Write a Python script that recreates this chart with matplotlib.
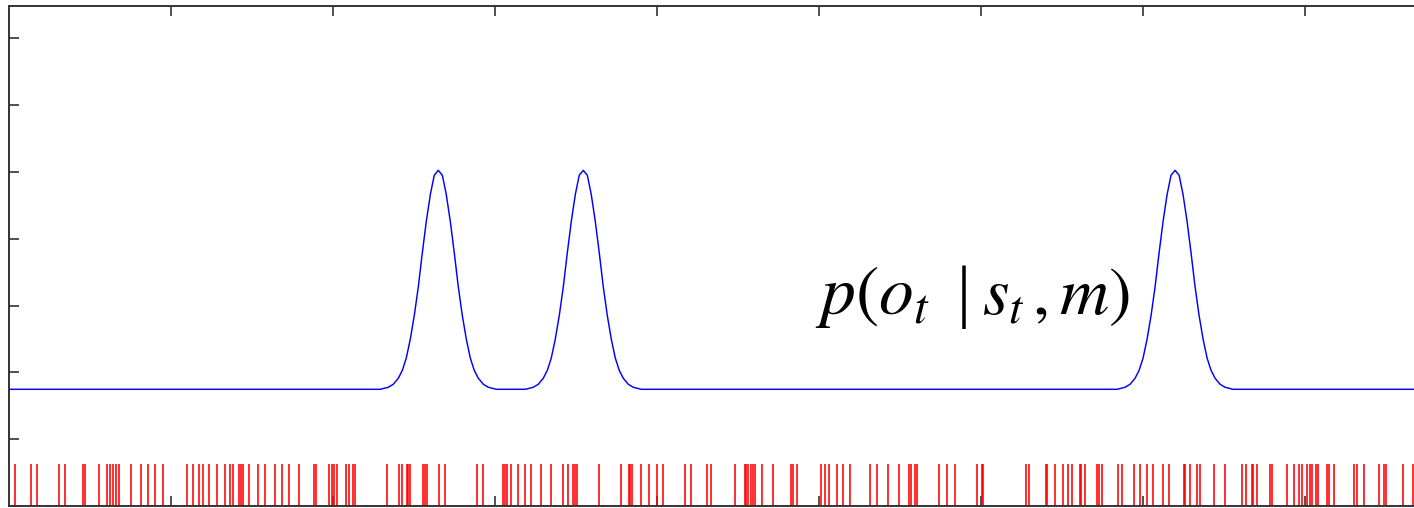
#!/usr/bin/env python3
"""Particle-filter style sketch: measurement likelihood with particle positions."""

import matplotlib

matplotlib.use("Agg")
import matplotlib.pyplot as plt
import numpy as np


# x in tick units (left spine = 0), y in tick units (bottom spine = 0)
base_level = 1.747
peak_centers = [2.650, 3.545, 7.198]

# one bump: distance from the peak and height above base
bump_offsets = [0.0, 0.025, 0.049, 0.074, 0.099, 0.123, 0.148, 0.173,
                0.198, 0.222, 0.247, 0.278, 0.309, 0.358]
bump_heights = [3.278, 3.204, 2.919, 2.515, 2.036, 1.542, 1.108, 0.749,
                0.464, 0.284, 0.165, 0.075, 0.030, 0.0]

particle_height = 0.63
particles = [
    0.037, 0.134, 0.171, 0.309, 0.346, 0.454, 0.469, 0.556, 0.603, 0.623,
    0.640, 0.659, 0.681, 0.751, 0.815, 0.860, 0.901, 0.949, 1.097, 1.134,
    1.173, 1.196, 1.235, 1.286, 1.333, 1.367, 1.383, 1.419, 1.432, 1.446,
    1.483, 1.539, 1.580, 1.642, 1.683, 1.730, 1.790, 1.883, 1.898, 1.973,
    1.992, 2.009, 2.027, 2.080, 2.096, 2.123, 2.136, 2.331, 2.407, 2.429,
    2.454, 2.465, 2.477, 2.557, 2.570, 2.583, 2.656, 2.693, 2.888, 2.927,
    3.049, 3.062, 3.077, 3.099, 3.141, 3.185, 3.222, 3.284, 3.346, 3.422,
    3.448, 3.480, 3.494, 3.509, 3.643, 3.779, 3.826, 3.836, 3.847, 3.902,
    3.952, 4.000, 4.039, 4.173, 4.209, 4.309, 4.335, 4.483, 4.541, 4.552,
    4.562, 4.580, 4.594, 4.608, 4.646, 4.713, 4.826, 4.841, 4.867, 5.014,
    5.037, 5.064, 5.111, 5.148, 5.190, 5.312, 5.360, 5.423, 5.496, 5.556,
    5.570, 5.593, 5.607, 5.742, 5.789, 5.841, 5.978, 6.005, 6.015, 6.276,
    6.298, 6.399, 6.410, 6.459, 6.505, 6.534, 6.560, 6.609, 6.619, 6.644,
    6.719, 6.731, 6.744, 6.844, 6.869, 6.943, 6.980, 7.026, 7.064, 7.125,
    7.162, 7.250, 7.262, 7.290, 7.336, 7.349, 7.436, 7.507, 7.609, 7.636,
    7.671, 7.681, 7.702, 7.784, 7.798, 7.890, 7.930, 7.965, 7.980, 8.011,
    8.031, 8.046, 8.068, 8.083, 8.138, 8.151, 8.177, 8.302, 8.318, 8.364,
    8.459, 8.489, 8.500, 8.607, 8.669,
]

x_ticks = [1, 2, 3, 4, 5, 6, 7, 8, 9]
y_ticks = [0, 1, 2, 3, 4, 5, 6, 7]
label_left = r"$p(o_t$"
label_bar = "|"
label_right = r"$s_t\,,m)$"


def build_curve():
    offs = np.array(bump_offsets)
    hts = np.array(bump_heights)
    xs = [0.0]
    ys = [base_level]
    for c in peak_centers:
        xs += list(c - offs[::-1]) + list(c + offs[1:])
        ys += list(base_level + hts[::-1]) + list(base_level + hts[1:])
    xs.append(10.0)
    ys.append(base_level)
    return np.array(xs), np.array(ys)


def main():
    plt.rcParams["mathtext.fontset"] = "stix"
    fig = plt.figure(figsize=(14.14, 5.08), dpi=100)
    # axes runs past the right edge of the picture (cropped figure)
    ax = fig.add_axes([9 / 1414, 2 / 508, 1620 / 1414, 500 / 508])

    xs, ys = build_curve()
    ax.plot(xs, ys, color="#0000ff", lw=1.05, zorder=3)
    ax.vlines(particles, 0, particle_height, color="#ff0000", lw=1.15, zorder=2)

    ax.set_xlim(0, 10)
    ax.set_ylim(0, 7.485)
    ax.set_xticks(x_ticks)
    ax.set_yticks(y_ticks)
    ax.tick_params(axis="both", direction="in", length=7.5, width=1.1,
                   color="#222222", labelbottom=False, labelleft=False,
                   top=True, right=False)
    for side in ["top", "bottom", "left"]:
        ax.spines[side].set_linewidth(1.4)
        ax.spines[side].set_color("#333333")
    ax.spines["right"].set_visible(False)

    # formula label, built in three pieces so the bar is full height
    base_y = 1 - 314 / 508
    fig.text(815 / 1414, base_y, label_left, fontsize=50, color="black",
             ha="left", va="baseline")
    fig.text(964 / 1414, base_y, label_bar, fontsize=50, color="black",
             family="Liberation Serif", ha="center", va="baseline")
    fig.text(982 / 1414, base_y, label_right, fontsize=49, color="black",
             ha="left", va="baseline")

    fig.savefig("out.png", dpi=100, facecolor="white")
    plt.close(fig)


if __name__ == "__main__":
    main()
